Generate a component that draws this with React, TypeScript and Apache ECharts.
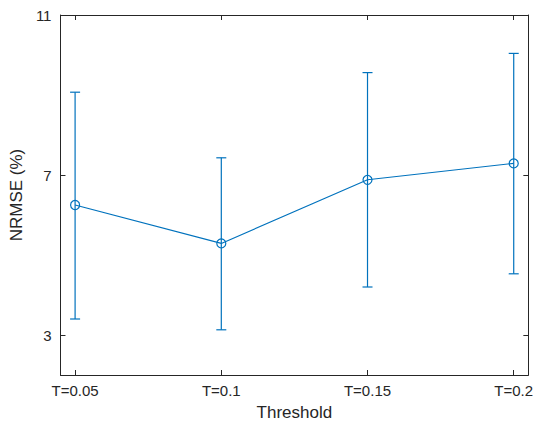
import React, { useEffect, useRef } from "react";
import * as echarts from "echarts";

const categories = ["T=0.05", "T=0.1", "T=0.15", "T=0.2"];
const nrmse = [6.25, 5.29, 6.88, 7.29];
const lower = [3.4, 3.13, 4.2, 4.53];
const upper = [9.07, 7.43, 9.56, 10.04];
const yTicks = [3, 7, 11];
const xTicks = [1, 2, 3, 4];

const COLOR = "#0072BD";
const AX = "#262626";
const FONT = "'Liberation Sans', Arial, Helvetica, sans-serif";

export default function App() {
  const ref = useRef<HTMLDivElement>(null);
  useEffect(() => {
    if (!ref.current) return;
    document.body.style.margin = "0";
    document.body.style.overflow = "hidden";
    const chart = echarts.init(ref.current, undefined, { renderer: "svg" });
    const lineData = nrmse.map((v, i) => [xTicks[i], v]);
    const errData = nrmse.map((_, i) => [xTicks[i], lower[i], upper[i]]);
    const axisCommon = {
      axisLine: { show: true, onZero: false, lineStyle: { color: AX, width: 1 } },
      axisTick: { show: true, inside: true, length: 5, lineStyle: { color: AX, width: 1 } },
      splitLine: { show: false },
    };
    chart.setOption({
      animation: false,
      backgroundColor: "#ffffff",
      grid: { left: 57, right: 6, top: 15, bottom: 46, containLabel: false },
      xAxis: [
        {
          type: "value",
          min: 0.9,
          max: 4.1,
          position: "bottom",
          ...axisCommon,
          axisTick: { ...axisCommon.axisTick, customValues: xTicks },
          axisLabel: {
            customValues: xTicks,
            formatter: (v: number) => categories[Math.round(v) - 1] ?? "",
            color: AX,
            fontSize: 15,
            fontFamily: FONT,
            margin: 8,
          },
          name: "Threshold",
          nameLocation: "middle",
          nameGap: 29,
          nameTextStyle: { color: AX, fontSize: 17, fontFamily: FONT },
        },
        {
          type: "value",
          min: 0.9,
          max: 4.1,
          position: "top",
          ...axisCommon,
          axisTick: { ...axisCommon.axisTick, customValues: xTicks },
          axisLabel: { show: false },
        },
      ],
      yAxis: [
        {
          type: "value",
          min: 2,
          max: 11,
          position: "left",
          ...axisCommon,
          axisTick: { ...axisCommon.axisTick, customValues: yTicks },
          axisLabel: {
            customValues: yTicks,
            color: AX,
            fontSize: 15,
            fontFamily: FONT,
            margin: 9,
          },
          name: "NRMSE (%)",
          nameLocation: "middle",
          nameGap: 31,
          nameTextStyle: { color: AX, fontSize: 17, fontFamily: FONT },
        },
        {
          type: "value",
          min: 2,
          max: 11,
          position: "right",
          ...axisCommon,
          axisTick: { ...axisCommon.axisTick, customValues: yTicks },
          axisLabel: { show: false },
        },
      ],
      series: [
        {
          type: "custom",
          xAxisIndex: 0,
          yAxisIndex: 0,
          data: errData,
          renderItem: (params: any, api: any) => {
            const x = api.value(0);
            const lo = api.coord([x, api.value(1)]);
            const hi = api.coord([x, api.value(2)]);
            const hw = 5;
            const style = { stroke: COLOR, lineWidth: 1.2 };
            return {
              type: "group",
              children: [
                { type: "line", shape: { x1: lo[0], y1: lo[1], x2: hi[0], y2: hi[1] }, style },
                { type: "line", shape: { x1: hi[0] - hw, y1: hi[1], x2: hi[0] + hw, y2: hi[1] }, style },
                { type: "line", shape: { x1: lo[0] - hw, y1: lo[1], x2: lo[0] + hw, y2: lo[1] }, style },
              ],
            };
          },
          z: 2,
        },
        {
          type: "line",
          xAxisIndex: 0,
          yAxisIndex: 0,
          data: lineData,
          symbol: "circle",
          symbolSize: 9,
          lineStyle: { color: COLOR, width: 1.1 },
          itemStyle: { color: "rgba(0,0,0,0)", borderColor: COLOR, borderWidth: 1.2 },
          z: 3,
        },
      ],
    });
    return () => chart.dispose();
  }, []);
  return (
    <div
      ref={ref}
      style={{ position: "fixed", left: 0, top: 0, width: 536, height: 426 }}
    />
  );
}
